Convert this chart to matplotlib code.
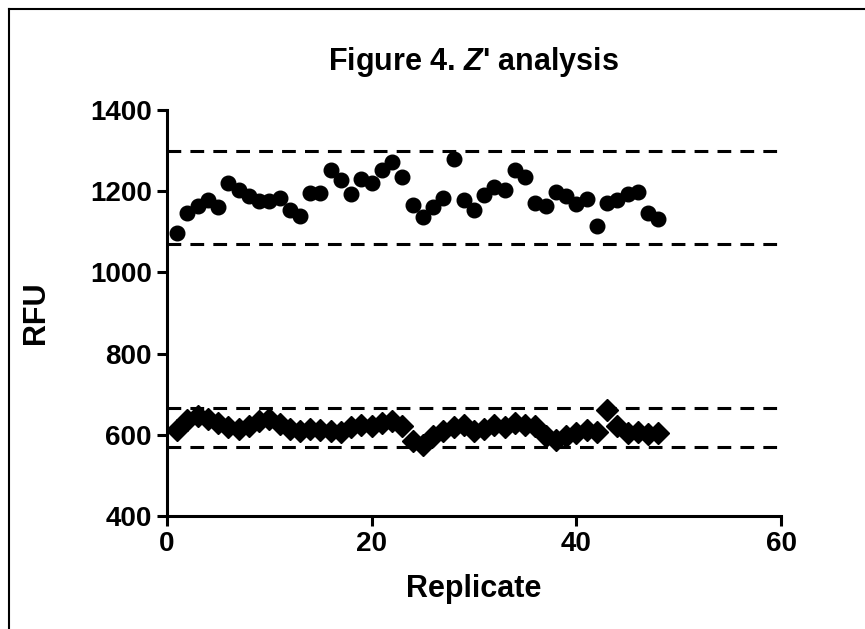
import numpy as np
import matplotlib
matplotlib.use("Agg")
import matplotlib.pyplot as plt
from matplotlib.lines import Line2D

plt.rcParams['font.family'] = ['Liberation Sans', 'DejaVu Sans']
plt.rcParams['font.weight'] = 'bold'
plt.rcParams['mathtext.fontset'] = 'custom'
plt.rcParams['mathtext.it'] = 'Liberation Sans:italic:bold'
plt.rcParams['mathtext.rm'] = 'Liberation Sans:bold'

# replicate numbers
replicate = np.arange(1, 49)

# high signal wells (circles)
high = [1097, 1147, 1164, 1178, 1161, 1220, 1203, 1188, 1176, 1176,
        1183, 1154, 1140, 1195, 1195, 1252, 1228, 1193, 1230, 1220,
        1252, 1273, 1234, 1166, 1137, 1161, 1183, 1279, 1178, 1154,
        1191, 1211, 1203, 1252, 1234, 1172, 1164, 1199, 1187, 1169,
        1180, 1115, 1170, 1178, 1193, 1199, 1146, 1131]

# low signal wells (diamonds)
low = [612, 637, 645, 638, 630, 620, 615, 622, 635, 640,
       626, 614, 610, 615, 612, 610, 608, 620, 625, 622,
       630, 633, 622, 585, 576, 596, 610, 620, 625, 610,
       615, 625, 620, 628, 625, 622, 596, 586, 598, 605,
       612, 608, 662, 622, 605, 608, 602, 604]

# mean +/- 3 SD bands
high_band = [1300, 1070]
low_band = [665, 570]

fig = plt.figure(figsize=(8.65, 6.29), dpi=100)
ax = fig.add_axes([0.193, 0.1797, 0.710, 0.6455])

for y in high_band + low_band:
    ax.axhline(y, color='black', lw=2.2, linestyle=(0, (4.5, 3)), zorder=1)

ax.plot(replicate, high, 'o', color='black', markersize=10.5, zorder=3, clip_on=False)
ax.plot(replicate, low, 'D', color='black', markersize=11, zorder=3, clip_on=False)

ax.set_xlim(0, 60)
ax.set_ylim(400, 1400)
ax.set_xticks([0, 20, 40, 60])
ax.set_yticks([400, 600, 800, 1000, 1200, 1400])

for s in ['top', 'right']:
    ax.spines[s].set_visible(False)
for s in ['left', 'bottom']:
    ax.spines[s].set_linewidth(2.2)
ax.tick_params(direction='out', length=7, width=2.2, labelsize=20, pad=4)
for lab in ax.get_xticklabels() + ax.get_yticklabels():
    lab.set_fontweight('bold')

ax.set_xlabel('Replicate', fontsize=22, fontweight='bold', labelpad=12)
ax.set_ylabel('RFU', fontsize=22, fontweight='bold', labelpad=28)
ax.set_title("Figure 4. $\\mathit{Z}$' analysis", fontsize=22, fontweight='bold', pad=29)

# image frame
fig.add_artist(Line2D([0.0104, 0.0104], [0.0, 0.9857], transform=fig.transFigure, color='black', lw=1.5))
fig.add_artist(Line2D([0.0104, 1.0], [0.9857, 0.9857], transform=fig.transFigure, color='black', lw=1.5))

fig.savefig('out.png', dpi=100)
